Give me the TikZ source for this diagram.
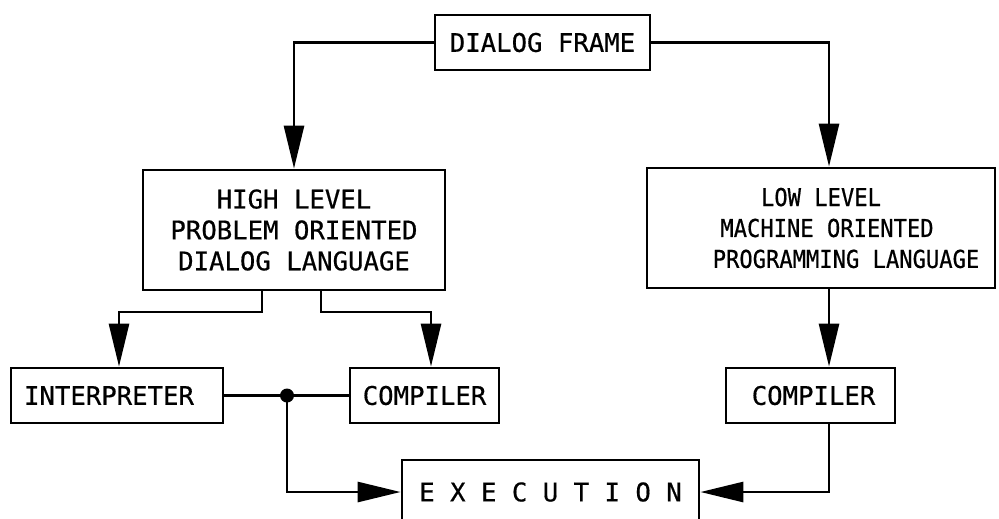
\documentclass[tikz,border=0pt]{standalone}
\usepackage{fontspec}
\newfontfamily\mono[FakeBold=0.6]{DejaVu Sans Mono}
\newfontfamily\monocond[FakeStretch=0.9,FakeBold=0.6]{DejaVu Sans Mono}
\usetikzlibrary{arrows.meta,calc}

\begin{document}
\begin{tikzpicture}[x=0.02cm,y=-0.02cm,
  box/.style={draw, line width=1.6pt, inner sep=0pt, align=center,
    font=\mono\fontsize{14.6}{17.6}\selectfont},
  sz/.style 2 args={minimum width=#1*0.02cm, minimum height=#2*0.02cm},
  link/.style={line width=1.6pt},
  arr/.style={link, -{Triangle[length=0.86cm,width=0.4cm]}}]
\useasboundingbox (0,0) rectangle (999,518);
\clip (0,0) rectangle (999,518);

% boxes
\node[box,sz={215}{55}] (df) at (542.5,42.5) {DIALOG FRAME};
\node[box,sz={302}{120}] (hl) at (294,230) {HIGH LEVEL\\PROBLEM ORIENTED\\DIALOG LANGUAGE};
\node[box,sz={348}{120},font=\monocond\fontsize{14}{17.6}\selectfont] (ll) at (821,228)
  {LOW LEVEL\\\hspace*{0.24cm}MACHINE ORIENTED\\\hspace*{1cm}PROGRAMMING LANGUAGE};
\node[box,sz={212}{55}] (int) at (117,395.5) {INTERPRETER\hspace*{0.32cm}};
\node[box,sz={149}{55}] (c1) at (424.5,395.5) {COMPILER};
\node[box,sz={169}{55}] (c2) at (810.5,395.5) {\hspace*{0.12cm}COMPILER};
\node[box,sz={297}{64}] (ex) at (550.5,492) {E X E C U T I O N};

% routing points
\coordinate (rr) at (829,0);
\coordinate (bl) at (262,312);
\coordinate (br) at (321,312);
\coordinate (il) at (119,312);
\coordinate (cl) at (431,312);
\coordinate (j) at (287,395.5);

% connectors
\draw[arr] (df.west) -| (hl.north);
\draw[arr] (df.east) -| (ll.north -| rr);
\draw[arr] (hl.south -| bl) -- (bl) -- (il) -- (int.north -| il);
\draw[arr] (hl.south -| br) -- (br) -- (cl) -- (c1.north -| cl);
\draw[arr] (ll.south -| rr) -- (c2.north -| rr);
\draw[link] (int.east) -- (c1.west);
\fill (j) circle[radius=0.14cm];
\draw[arr] (j) |- (ex.west);
\draw[arr] (c2.south -| rr) |- (ex.east);
\end{tikzpicture}
\end{document}
